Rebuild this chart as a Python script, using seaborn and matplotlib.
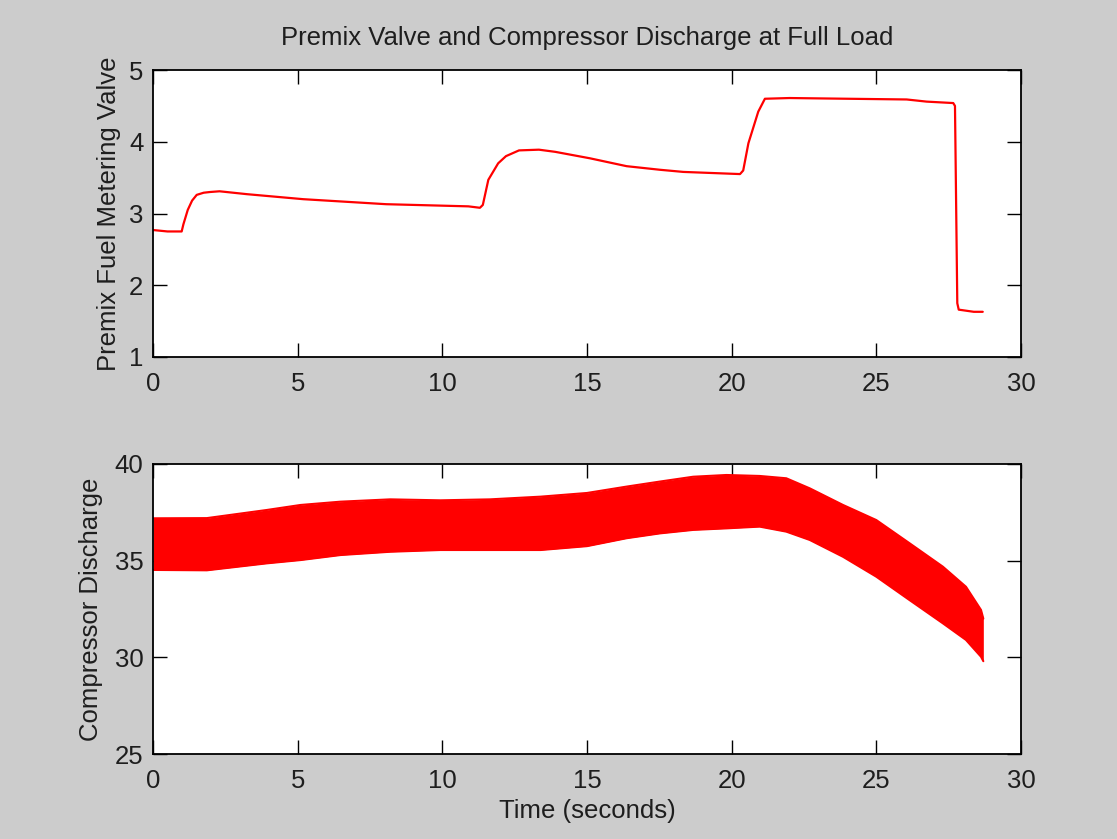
import matplotlib
matplotlib.use("Agg")
import matplotlib.pyplot as plt
import seaborn as sns
import numpy as np
import pandas as pd

# ---- data ----
valve_time = [0.0, 0.5, 0.99, 1.05, 1.2, 1.35, 1.51, 1.75, 1.97, 2.3, 3.24, 5.19, 8.06, 10.9,
              11.3, 11.4, 11.59, 11.93, 12.2, 12.65, 13.34, 13.9, 15.1, 16.37, 17.52, 18.33,
              20.29, 20.4, 20.58, 20.92, 21.15, 22.0, 24.0, 26.05, 26.74, 27.66, 27.72,
              27.8, 27.85, 28.37, 28.68]
valve_value = [2.77, 2.75, 2.75, 2.85, 3.05, 3.18, 3.26, 3.29, 3.30, 3.31, 3.27, 3.20, 3.13, 3.10,
               3.08, 3.12, 3.47, 3.70, 3.80, 3.88, 3.89, 3.86, 3.77, 3.66, 3.61, 3.58,
               3.55, 3.60, 3.98, 4.42, 4.60, 4.61, 4.60, 4.59, 4.56, 4.54, 4.50,
               1.75, 1.66, 1.63, 1.63]

disch_time = [0.0, 1.86, 3.93, 5.1, 6.48, 8.2, 9.93, 11.65, 13.4, 15.0, 16.37, 17.52, 18.67,
              19.82, 20.97, 21.89, 22.7, 23.85, 25.0, 26.15, 27.3, 28.1, 28.62, 28.7]
disch_upper = [37.19, 37.2, 37.62, 37.88, 38.05, 38.17, 38.12, 38.17, 38.31, 38.5, 38.83, 39.09,
               39.34, 39.43, 39.38, 39.26, 38.74, 37.88, 37.1, 35.9, 34.69, 33.65, 32.45, 32.0]
disch_lower = [34.52, 34.5, 34.86, 35.03, 35.29, 35.46, 35.55, 35.55, 35.55, 35.75, 36.16, 36.41,
               36.59, 36.67, 36.76, 36.5, 36.07, 35.2, 34.17, 32.96, 31.76, 30.9, 30.03, 29.8]

title = "Premix Valve and Compressor Discharge at Full Load"
x_ticks = [0, 5, 10, 15, 20, 25, 30]
top_yticks = [1, 2, 3, 4, 5]
bot_yticks = [25, 30, 35, 40]

sns.set_style("ticks")
plt.rcParams['font.family'] = ['Liberation Sans', 'DejaVu Sans']
plt.rcParams['xtick.direction'] = 'in'
plt.rcParams['ytick.direction'] = 'in'

txt = "#1e1e1e"
bg = "#cccccc"
fig = plt.figure(figsize=(11.17, 8.39), dpi=100, facecolor=bg)
ax1 = fig.add_axes([0.137, 0.5745, 0.777, 0.342])
ax2 = fig.add_axes([0.137, 0.1013, 0.777, 0.3457])

df_v = pd.DataFrame({"t": valve_time, "v": valve_value})
sns.lineplot(data=df_v, x="t", y="v", ax=ax1, color="#ff0000", linewidth=1.6,
             estimator=None, sort=False)

df_d = pd.DataFrame({"t": disch_time, "upper": disch_upper, "lower": disch_lower})
ax2.fill_between(df_d["t"], df_d["lower"], df_d["upper"], color="#ff0000", linewidth=0)
sns.lineplot(data=df_d, x="t", y="upper", ax=ax2, color="#ff0000", linewidth=1.5, estimator=None)
sns.lineplot(data=df_d, x="t", y="lower", ax=ax2, color="#ff0000", linewidth=1.5, estimator=None)

fs = 18.5
for ax, yt in ((ax1, top_yticks), (ax2, bot_yticks)):
    ax.set_facecolor("white")
    ax.set_xlim(0, 30)
    ax.set_ylim(yt[0], yt[-1])
    ax.set_xticks(x_ticks)
    ax.set_yticks(yt)
    ax.tick_params(which="both", direction="in", length=10, width=1, top=True, right=True,
                   labelsize=fs, colors="black", labelcolor=txt)
    ax.tick_params(axis="x", pad=11)
    ax.tick_params(axis="y", pad=7)
    for s in ax.spines.values():
        s.set_visible(True)
        s.set_color("black")
        s.set_linewidth(1.3)

ax1.set_xlabel("")
ax1.set_ylabel("Premix Fuel Metering Valve", fontsize=fs, color=txt, labelpad=6)
ax1.set_title(title, fontsize=fs, pad=18, color=txt)
ax2.set_xlabel("Time (seconds)", fontsize=fs, labelpad=4, color=txt)
ax2.set_ylabel("Compressor Discharge", fontsize=fs, color=txt, labelpad=8)

fig.savefig("out.png", dpi=100, facecolor=bg)
